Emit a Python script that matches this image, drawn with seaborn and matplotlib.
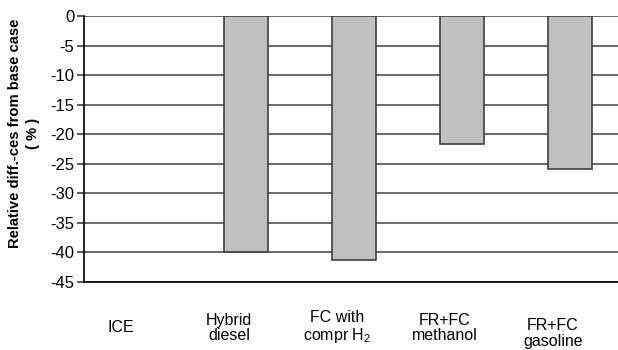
import matplotlib
matplotlib.use("Agg")
import matplotlib.pyplot as plt
import matplotlib.transforms as mtransforms
import pandas as pd
import seaborn as sns

# data
categories = ["ICE", "Hybrid\ndiesel", "FC with\ncompr H$_2$", "FR+FC\nmethanol", "FR+FC\ngasoline"]
rel_diff = [0.0, -40.0, -41.2, -21.6, -25.9]
y_ticks = list(range(0, -50, -5))

df = pd.DataFrame({"case": categories, "diff": rel_diff})

sns.set_theme(style="white")
plt.rcParams["font.family"] = ["Liberation Sans", "DejaVu Sans"]
plt.rcParams["mathtext.fontset"] = "custom"
plt.rcParams["mathtext.rm"] = "Liberation Sans"
plt.rcParams["axes.unicode_minus"] = False
plt.rcParams["text.color"] = "black"
plt.rcParams["axes.labelcolor"] = "black"
plt.rcParams["xtick.color"] = "black"
plt.rcParams["ytick.color"] = "black"

fig = plt.figure(figsize=(6.18, 3.5), dpi=100)
ax = fig.add_axes([84 / 618, 1 - 282 / 350, 1 - 84 / 618, (282 - 16) / 350])

sns.barplot(data=df, x="case", y="diff", color="#c0c0c0", saturation=1,
            width=0.41, edgecolor="#404040", linewidth=1.2, ax=ax)

# the ICE bar has zero height, so no outline for it
for p in ax.patches:
    if abs(p.get_height()) < 1e-9:
        p.set_visible(False)

ax.set_axisbelow(True)
ax.yaxis.grid(True, color="#505050", linewidth=1.2)
ax.set_ylim(-45, 0)
ax.set_yticks(y_ticks)
ax.set_xlim(-0.5, (618 - 138) / 108)

for s in ["top", "right"]:
    ax.spines[s].set_visible(False)
for s in ["left", "bottom"]:
    ax.spines[s].set_color("black")
    ax.spines[s].set_linewidth(1.2)

ax.tick_params(axis="y", left=True, length=5, width=1.2, color="#404040",
               labelsize=12, pad=2)
ax.tick_params(axis="x", bottom=False, labelsize=11.5, pad=27)
for lab in ax.get_xticklabels():
    lab.set_linespacing(1.05)
    lab.set_verticalalignment("center")
    dy = -4 / 72 if "gasoline" in lab.get_text() else 0
    off = mtransforms.ScaledTranslation(-17 / 100, dy, fig.dpi_scale_trans)
    lab.set_transform(lab.get_transform() + off)

ax.set_xlabel("")
ax.set_ylabel("")
# y 轴标题单独放，位置比 ylabel 好控制
fig.text(24 / 618, 1 - 133 / 350, "Relative diff.-ces from base case\n( % )",
         rotation=90, ha="center", va="center", multialignment="center",
         fontsize=10.6, fontweight="bold", linespacing=1.45)

fig.savefig("out.png", dpi=100)
